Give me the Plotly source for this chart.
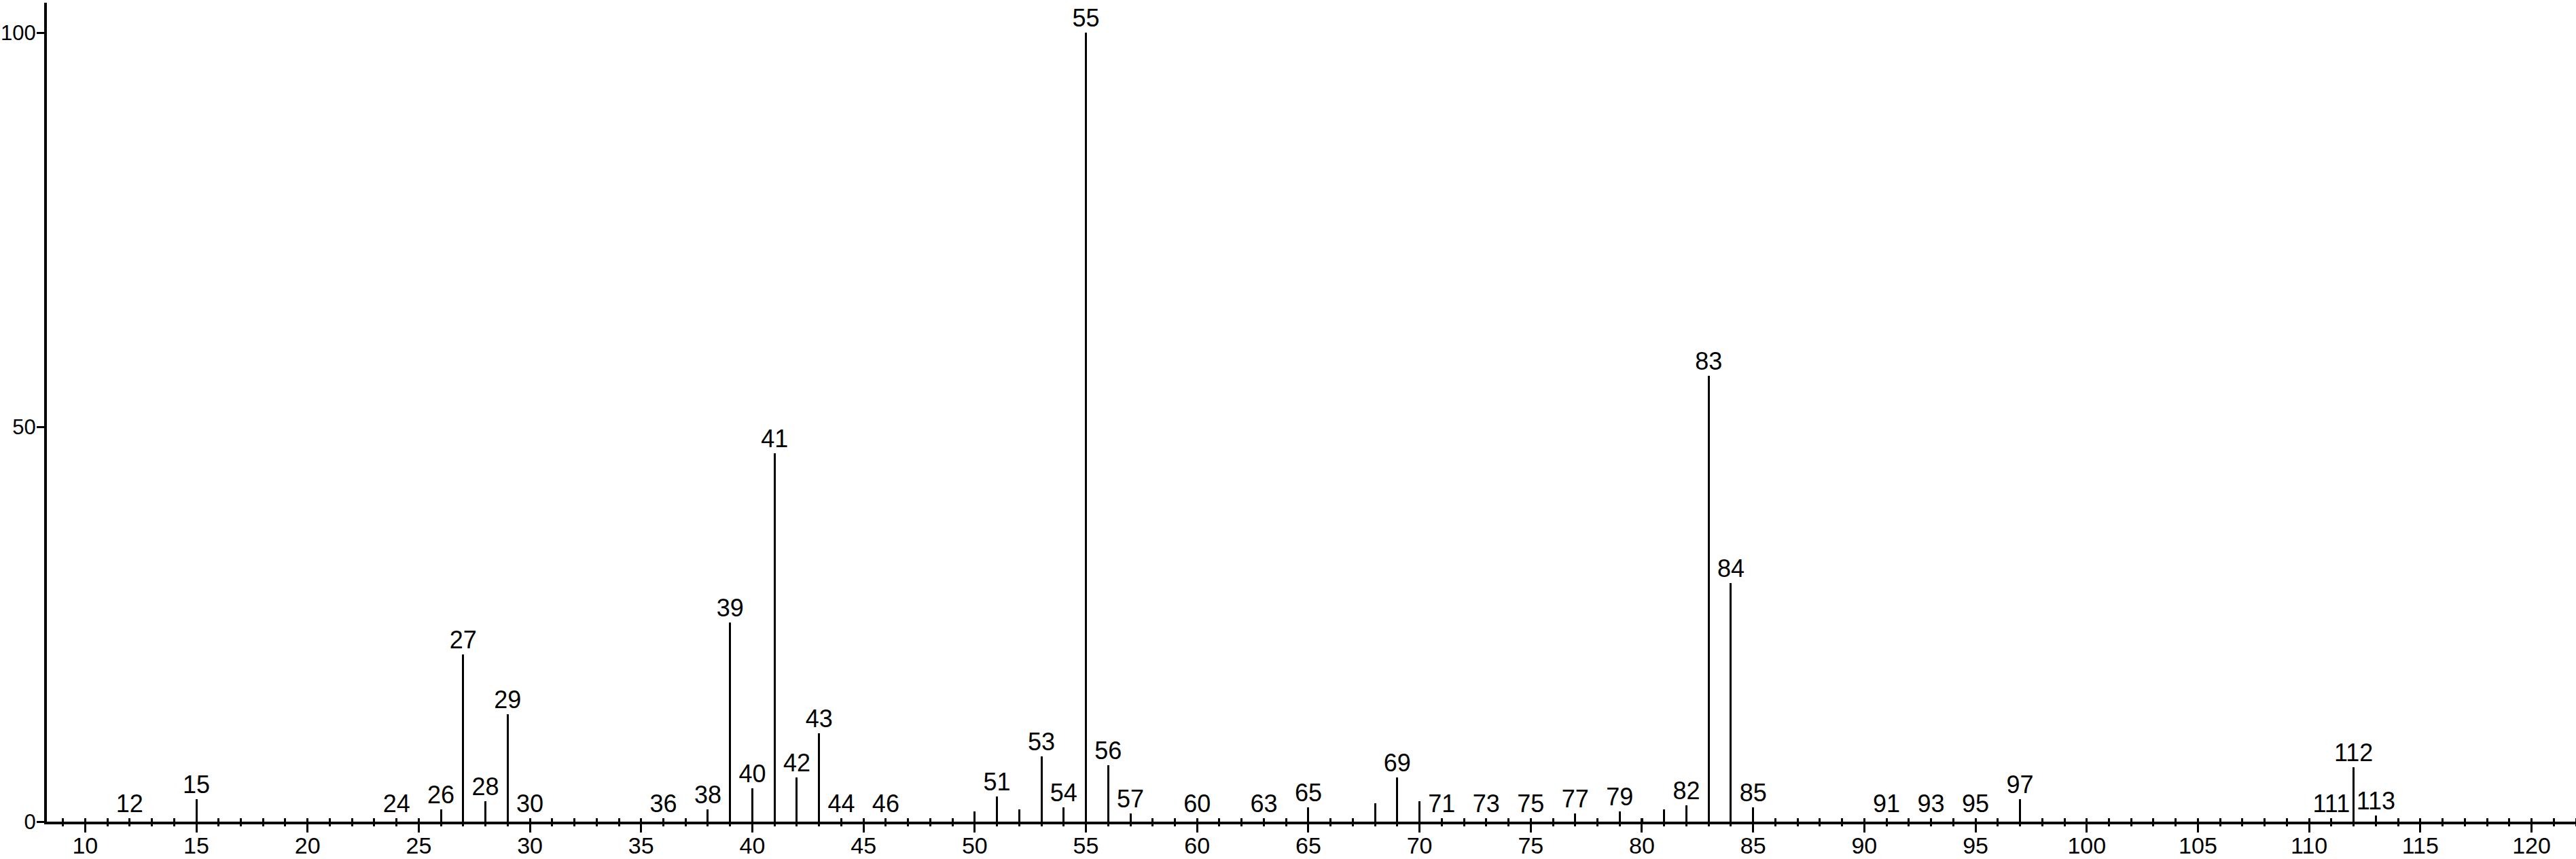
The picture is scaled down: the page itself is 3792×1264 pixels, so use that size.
import plotly.graph_objects as go

# m/z values and relative intensities (%)
mz = [12, 15, 24, 25, 26, 27, 28, 29, 30, 36, 38, 39, 40, 41, 42, 43, 44, 45, 46,
      50, 51, 52, 53, 54, 55, 56, 57, 60, 63, 65, 68, 69, 70, 71, 73, 75, 77, 79,
      80, 81, 82, 83, 84, 85, 91, 93, 95, 97, 111, 112, 113]
intensity = [0.4, 2.87, 0.45, 0.45, 1.52, 21.2, 2.58, 13.6, 0.45, 0.45, 1.52, 25.2,
             4.19, 46.7, 5.57, 11.2, 0.45, 0.45, 0.45,
             1.29, 3.16, 1.52, 8.27, 1.81, 100.0, 7.18, 1.03, 0.45, 0.45, 1.81, 2.35,
             5.57, 2.61, 0.45, 0.45, 0.45, 1.03, 1.3,
             0.45, 1.52, 2.1, 56.5, 30.2, 1.81, 0.45, 0.45, 0.45, 2.87, 0.46, 6.89, 0.75]
# peaks that carry a text label
labeled_mz = [12, 15, 24, 26, 27, 28, 29, 30, 36, 38, 39, 40, 41, 42, 43, 44, 46,
              51, 53, 54, 55, 56, 57, 60, 63, 65, 69, 71, 73, 75, 77, 79, 82, 83,
              84, 85, 91, 93, 95, 97, 111, 112, 113]
x_tickvals = list(range(10, 121, 5))
y_tickvals = [0, 50, 100]

FONT = "Liberation Sans, Arial, sans-serif"
FS = 36

lookup = dict(zip(mz, intensity))
lab_x = labeled_mz
lab_y = [lookup[m] for m in labeled_mz]
lab_t = [str(m) for m in labeled_mz]

fig = go.Figure()
fig.add_trace(go.Bar(x=mz, y=intensity, width=0.092,
                     marker=dict(color="black", line=dict(width=0)),
                     showlegend=False, hoverinfo="x+y"))
fig.add_trace(go.Scatter(x=lab_x, y=lab_y, text=lab_t, mode="text",
                         textposition="top center",
                         textfont=dict(family=FONT, size=FS, color="black"),
                         showlegend=False, hoverinfo="skip", cliponaxis=False))
# overlay axis only to draw the lower halves of the small integer ticks
fig.add_trace(go.Scatter(x=[mz[0]], y=[0], xaxis="x2", mode="markers",
                         marker=dict(opacity=0), showlegend=False, hoverinfo="skip"))

xr = [8.28, 122.0]
fig.update_layout(
    width=3792, height=1264, autosize=False,
    margin=dict(l=69, r=0, t=4, b=55, autoexpand=False),
    paper_bgcolor="white", plot_bgcolor="white",
    font=dict(family=FONT, size=FS, color="black"),
    bargap=0, hovermode=False,
    xaxis=dict(range=xr, tickmode="array", tickvals=x_tickvals, automargin=False,
               ticks="outside", ticklen=12, tickwidth=3, tickcolor="black",
               showline=True, linewidth=4, linecolor="black",
               showgrid=False, zeroline=False, ticklabelstandoff=-10,
               minor=dict(dtick=1, tick0=0, ticks="inside", ticklen=5,
                          tickwidth=3, tickcolor="black", showgrid=False),
               tickfont=dict(family=FONT, size=34, color="black")),
    xaxis2=dict(range=xr, overlaying="x", anchor="y", side="bottom", automargin=False,
                tickmode="linear", dtick=1, tick0=0,
                ticks="outside", ticklen=6, tickwidth=3, tickcolor="black",
                showticklabels=False, showline=False, showgrid=False,
                zeroline=False),
    yaxis=dict(range=[0, 103.8], tickmode="array", tickvals=y_tickvals, automargin=False,
               ticks="outside", ticklen=11, tickwidth=3, tickcolor="black",
               showline=True, linewidth=4, linecolor="black",
               showgrid=False, zeroline=False, ticklabelstandoff=-5,
               tickfont=dict(family=FONT, size=31, color="black")),
)

fig.write_html("out.html",
               config=dict(displayModeBar=False, responsive=False, staticPlot=True),
               post_script="document.body.style.margin='0';")
